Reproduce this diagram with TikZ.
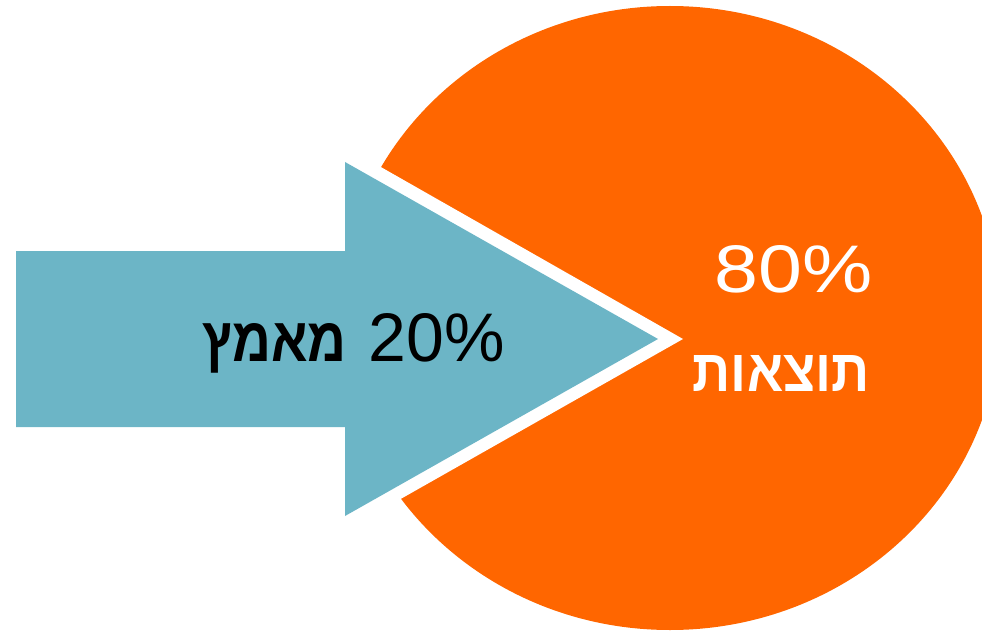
\documentclass[tikz,border=0pt]{standalone}
\usepackage{fontspec}
\setmainfont{Liberation Sans}
\TeXXeTstate=1
\newfontfamily\hebfont[Script=Hebrew]{Liberation Sans}
\definecolor{orng}{HTML}{FF6600}
\definecolor{aqua}{HTML}{6CB5C6}
\begin{document}
\begin{tikzpicture}[x=1pt,y=-1pt,
  lbl/.style={inner sep=0pt, anchor=base east, font=\fontsize{60}{60}\selectfont}]
\useasboundingbox (0,0) rectangle (982,631);
\clip (0,0) rectangle (982,631);
% orange pie
\fill[orng] (670,318) ellipse [x radius=330, y radius=312];
% notch
\fill[white] (683,339) -- (300,121) -- (300,556) -- cycle;
% arrow
\fill[aqua] (16,251) -- (345,251) -- (345,162) -- (658,339) -- (345,516) -- (345,427) -- (16,427) -- cycle;
% texts
\node[lbl, text=black] (effortnum) at (505,361)
  {\resizebox{136pt}{48pt}{20\%}};
\node[lbl, text=black] (effort) at (347,361)
  {\resizebox{144pt}{38pt}{\hebfont\bfseries\beginR מאמץ\endR}};
\node[lbl, text=white] (pct) at (873,292)
  {\resizebox{158pt}{47pt}{80\%}};
\node[lbl, text=white] (results) at (870,391)
  {\resizebox{177pt}{36pt}{\hebfont\bfseries\beginR תוצאות\endR}};
\end{tikzpicture}
\end{document}
